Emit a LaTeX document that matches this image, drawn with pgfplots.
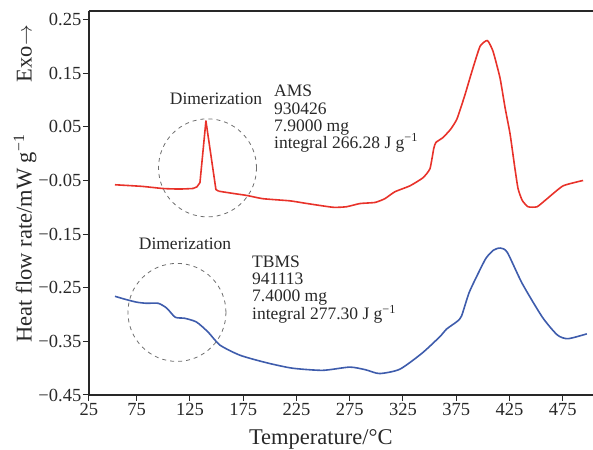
\documentclass[border=0pt]{standalone}
\usepackage{fontspec}
\setmainfont{Liberation Serif}
\usepackage{pgfplots}
\pgfplotsset{compat=1.18}
\definecolor{amsred}{RGB}{232,50,42}
\definecolor{tbmsblue}{RGB}{62,92,172}
\definecolor{axgray}{RGB}{40,40,40}
\definecolor{dashgray}{RGB}{110,110,110}

\pgfplotstableread{
x y
54.6 -0.058
80 -0.061
99.6 -0.065
115 -0.066
127.8 -0.065
}\amsA

\pgfplotstableread{
x y
127.8 -0.065
131.5 -0.062
134.4 -0.054
140.0 0.061
149.4 -0.067
152 -0.070
}\amsB

\pgfplotstableread{
x y
152 -0.070
165 -0.074
178.6 -0.078
193.6 -0.084
219 -0.088
235 -0.093
259.4 -0.100
272 -0.099
284.7 -0.093
298.8 -0.091
308 -0.084
317.5 -0.071
331.6 -0.060
343.8 -0.045
350.4 -0.028
354 0.010
356.0 0.021
362.6 0.030
370 0.046
375.8 0.065
383 0.108
389.9 0.154
397.4 0.200
404.3 0.211
409.6 0.191
416.2 0.141
421 0.085
425.6 0.037
430 -0.025
433.1 -0.065
437 -0.087
442.5 -0.099
451 -0.099
460.4 -0.084
475.4 -0.060
494.2 -0.050
}\amsC

\pgfplotstableread{
x y
54.6 -0.266
65 -0.272
75.2 -0.277
84.2 -0.279
95.2 -0.279
103.2 -0.288
111.2 -0.305
120.2 -0.307
131.2 -0.314
142.2 -0.333
153.2 -0.357
172.2 -0.376
197.2 -0.390
221.2 -0.400
249.7 -0.404
275 -0.398
290 -0.403
303 -0.410
322 -0.402
343 -0.372
359.8 -0.341
366 -0.327
375.8 -0.313
380 -0.303
387 -0.260
395 -0.226
403 -0.195
410 -0.180
416.4 -0.176
423 -0.184
437 -0.242
456 -0.305
470 -0.338
480 -0.345
497.7 -0.336
}\tbmsdata

\begin{document}
\begin{tikzpicture}
\begin{axis}[
  scale only axis,
  width=504pt, height=384pt,
  xmin=30.2, xmax=503.5,
  ymin=-0.45, ymax=0.266,
  axis x line*=bottom, axis y line*=left,
  axis line style={-, line width=1.2pt, color=axgray},
  tick align=outside,
  major tick length=6pt,
  tick style={line width=1pt, color=axgray},
  xtick={30.2,75,125,175,225,275,325,375,425,475},
  xticklabels={25,75,125,175,225,275,325,375,425,475},
  ytick={-0.45,-0.35,-0.25,-0.15,-0.05,0.05,0.15,0.25},
  yticklabels={−0.45,−0.35,−0.25,−0.15,−0.05,0.05,0.15,0.25},
  ticklabel style={font=\fontsize{18.5}{20}\selectfont, text=axgray},
  yticklabel style={inner sep=1.5pt},
  xticklabel style={inner sep=2pt},
  clip=false,
]
\draw[line width=1.2pt, color=axgray] (rel axis cs:0,1) -- (rel axis cs:1,1);
\addplot[amsred, line width=1.6pt, line join=round, smooth, tension=0.3] table[x=x,y=y] {\amsA};
\addplot[amsred, line width=1.6pt, line join=round] table[x=x,y=y] {\amsB};
\addplot[amsred, line width=1.6pt, line join=round, smooth, tension=0.3] table[x=x,y=y] {\amsC};
\addplot[tbmsblue, line width=1.6pt, smooth, tension=0.4] table[x=x,y=y] {\tbmsdata};
\node[draw=dashgray, line width=0.8pt, dash pattern=on 4pt off 4pt, circle, minimum size=98pt, inner sep=0pt] at (axis cs:141.5,-0.0265) {};
\node[draw=dashgray, line width=0.8pt, dash pattern=on 4pt off 4pt, circle, minimum size=98pt, inner sep=0pt] at (axis cs:112.8,-0.296) {};
\begin{scope}[every node/.style={font=\fontsize{17.5}{18}\selectfont, text=axgray, inner sep=0pt}]
\node[anchor=base] at (axis cs:149.5,0.091) {Dimerization};
\node[anchor=base west] at (axis cs:203.9,0.106) {AMS};
\node[anchor=base west] at (axis cs:203.9,0.0734) {930426};
\node[anchor=base west] at (axis cs:203.9,0.0417) {7.9000 mg};
\node[anchor=base west] at (axis cs:203.9,0.0101) {integral 266.28 J g\textsuperscript{−1}};
\node[anchor=base] at (axis cs:120.4,-0.178) {Dimerization};
\node[anchor=base west] at (axis cs:183.3,-0.213) {TBMS};
\node[anchor=base west] at (axis cs:183.3,-0.2448) {941113};
\node[anchor=base west] at (axis cs:183.3,-0.2765) {7.4000 mg};
\node[anchor=base west] at (axis cs:183.3,-0.309) {integral 277.30 J g\textsuperscript{−1}};
\end{scope}
\coordinate (ylab) at (rel axis cs:0,0.4076);
\coordinate (exo) at (rel axis cs:0,0.889);
\coordinate (xlab) at (rel axis cs:0.46,0);
\end{axis}
\begin{scope}[every node/.style={font=\fontsize{22.5}{24}\selectfont, text=axgray, inner sep=0pt}]
\node[anchor=base, rotate=90] at ([xshift=-57.3pt]ylab) {Heat flow rate/mW g\textsuperscript{−1}};
\node[anchor=base, rotate=90] at ([xshift=-57.3pt]exo) {Exo$\rightarrow$};
\node[anchor=base] at ([yshift=-50pt]xlab) {Temperature/°C};
\end{scope}
\pgfresetboundingbox
\path ([shift={(-89pt,-55pt)}]current axis.south west) rectangle ([shift={(0pt,11pt)}]current axis.north east);
\end{tikzpicture}
\end{document}
